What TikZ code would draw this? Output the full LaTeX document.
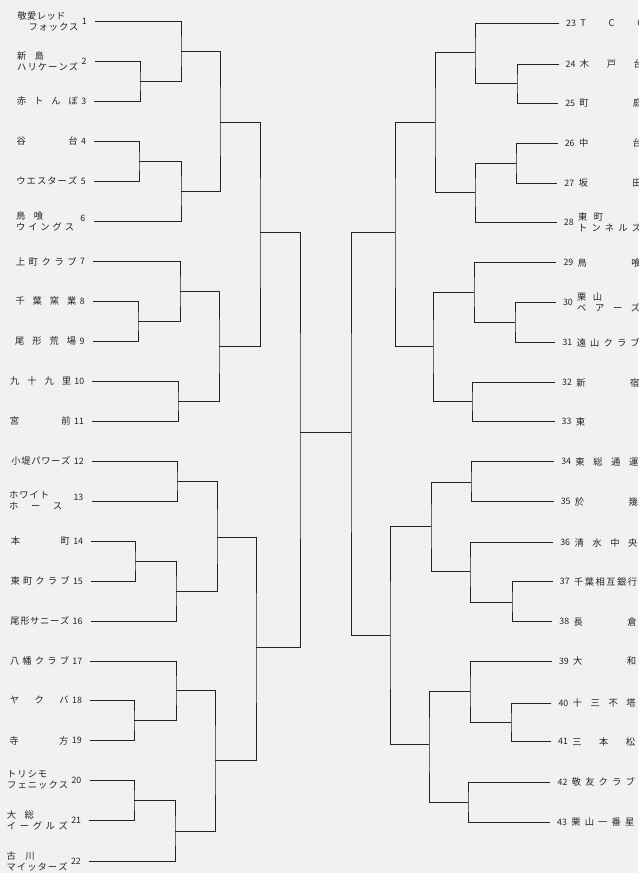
\documentclass[tikz,border=0pt]{standalone}
\usepackage{fontspec}
\setmainfont{Noto Sans CJK JP}
\usetikzlibrary{calc}
\definecolor{paper}{RGB}{241,241,239}
\definecolor{ink}{RGB}{35,35,35}
\makeatletter
\def\sp@loop#1{\ifx#1\relax\else\hfill#1\expandafter\sp@loop\fi}
\def\sp@first#1{#1\sp@loop}
\newcommand\sprd[2]{\makebox[#1pt][s]{\vphantom{国}\sp@first#2\relax}}
\makeatother
\newcommand\twoL[3]{\vbox{\baselineskip=11pt\hbox to #1pt{\vphantom{国}#2\hfil}\hbox to #1pt{\vphantom{国}#3\hfil}}}
\tikzset{
  ln/.style={draw=ink, line width=0.8pt},
  nm/.style={inner sep=0pt, text=ink, font=\fontsize{9.3}{11}\selectfont},
  nu/.style={inner sep=0pt, text=ink, font=\fontsize{8.8}{10}\selectfont},
}
\newcommand\Lteam[4][0]{%
  \coordinate (L#2) at ({95-6*(#3-21)/840},#3);
  \node[nu,anchor=east,yshift=#1pt] (nL#2) at ($(L#2)+(-8,0)$) {#2};
  \node[nm,anchor=east] (mL#2) at ($(L#2 -| nL#2.west)+(-3,0)$) {#4};
}
\newcommand\Rteam[4][0]{%
  \coordinate (R#2) at ({559-9*(#3-23)/800},#3);
  \node[nu,anchor=west,yshift=#1pt] (nR#2) at ($(R#2)+(7,0)$) {#2};
  \node[nm,anchor=west] (mR#2) at ($(R#2 -| nR#2.east)+(4,0)$) {#4};
}
\begin{document}
\begin{tikzpicture}[x=1pt,y=-1pt]
\clip (0,0) rectangle (638,873);
\fill[paper] (0,0) rectangle (638,873);

% ---- left teams
\Lteam{1}{21}{\twoL{61}{\sprd{48}{敬愛レッド}}{\hfill\sprd{50}{フォックス}}}
\Lteam{2}{61.5}{\twoL{61}{\sprd{27}{新島}}{\sprd{61}{ハリケーンズ}}}
\Lteam{3}{101}{\sprd{61}{赤トんぼ}}
\Lteam{4}{141}{\sprd{61}{谷台}}
\Lteam{5}{181}{\sprd{61}{ウエスターズ}}
\Lteam[3]{6}{221}{\twoL{61}{\sprd{27}{鳥喰}}{\sprd{58}{ウイングス}}}
\Lteam{7}{261.5}{\sprd{61}{上町クラブ}}
\Lteam{8}{301}{\sprd{61}{千葉窯業}}
\Lteam{9}{341}{\sprd{61}{尾形荒場}}
\Lteam{10}{381}{\sprd{61}{九十九里}}
\Lteam{11}{421}{\sprd{61}{宮前}}
\Lteam{12}{461}{\sprd{59}{小堤パワーズ}}
\Lteam[4]{13}{501}{\twoL{61}{\sprd{40}{ホワイト}}{\sprd{53}{ホース}}}
\Lteam{14}{541}{\sprd{59}{本町}}
\Lteam{15}{581}{\sprd{59}{東町クラブ}}
\Lteam{16}{621}{\sprd{59}{尾形サニーズ}}
\Lteam{17}{661}{\sprd{59}{八幡クラブ}}
\Lteam{18}{700.5}{\sprd{59}{ヤクバ}}
\Lteam{19}{740.5}{\sprd{59}{寺方}}
\Lteam{20}{780}{\twoL{61}{\sprd{40}{トリシモ}}{\sprd{61}{フェニックス}}}
\Lteam{21}{820}{\twoL{61}{\sprd{27}{大総}}{\sprd{61}{イーグルズ}}}
\Lteam{22}{861}{\twoL{61}{\sprd{28}{古川}}{\sprd{61}{マイッターズ}}}

% ---- right teams
\Rteam{23}{23}{\sprd{63}{TCC}}
\Rteam{24}{64}{\sprd{63}{木戸台}}
\Rteam{25}{103}{\sprd{63}{町庭}}
\Rteam{26}{143}{\sprd{63}{中台}}
\Rteam{27}{183}{\sprd{63}{坂田}}
\Rteam{28}{222.5}{\twoL{63}{\sprd{25}{東町}}{\sprd{63}{トンネルズ}}}
\Rteam{29}{262.5}{\sprd{63}{鳥喰}}
\Rteam{30}{302.5}{\twoL{63}{\sprd{25}{栗山}}{\sprd{63}{ベアーズ}}}
\Rteam{31}{342.5}{\sprd{63}{遠山クラブ}}
\Rteam{32}{382.5}{\sprd{63}{新宿}}
\Rteam{33}{421.5}{\makebox[63pt][l]{\vphantom{国}東}}
\Rteam{34}{461.5}{\sprd{63}{東総通運}}
\Rteam{35}{501.5}{\sprd{63}{於幾}}
\Rteam{36}{542.5}{\sprd{63}{清水中央}}
\Rteam{37}{581.5}{\sprd{63}{千葉相互銀行}}
\Rteam{38}{621.5}{\sprd{63}{長倉}}
\Rteam{39}{661}{\sprd{63}{大和}}
\Rteam{40}{703}{\sprd{63}{十三不塔}}
\Rteam{41}{741.5}{\sprd{63}{三本松}}
\Rteam{42}{782}{\sprd{63}{敬友クラブ}}
\Rteam{43}{822}{\sprd{63}{栗山一番星}}

% ---- left junctions
\coordinate (Ja) at (140,81);
\coordinate (Jb) at (181,51.5);
\coordinate (Jc) at (139,161);
\coordinate (Jd) at (181,191);
\coordinate (Je) at (220,122);
\coordinate (Jf) at (138,321);
\coordinate (Jg) at (180,291);
\coordinate (Jh) at (178,401);
\coordinate (Ji) at (219,346);
\coordinate (Jj) at (260,232);
\coordinate (Jk) at (177,481);
\coordinate (Jl) at (135,561);
\coordinate (Jm) at (176,591);
\coordinate (Jn) at (217,537);
\coordinate (Jo) at (134,720.5);
\coordinate (Jp) at (176,690);
\coordinate (Jq) at (134,800);
\coordinate (Jr) at (175,831);
\coordinate (Js) at (215,760);
\coordinate (Jt) at (256,647);
\coordinate (Ju) at (300,432);

% ---- right junctions
\coordinate (KA) at (517,83);
\coordinate (KB) at (475,52.5);
\coordinate (KC) at (516,163);
\coordinate (KD) at (475,192);
\coordinate (KE) at (435,122);
\coordinate (KF) at (515,322);
\coordinate (KG) at (474,292);
\coordinate (KH) at (472,401);
\coordinate (KI) at (433,346);
\coordinate (KJ) at (395,232);
\coordinate (KK) at (471,482);
\coordinate (KL) at (512,602);
\coordinate (KM) at (470,571);
\coordinate (KN) at (431,526);
\coordinate (KO) at (511,722);
\coordinate (KP) at (470,691);
\coordinate (KQ) at (468,802);
\coordinate (KR) at (429,744);
\coordinate (KS) at (390,635.5);
\coordinate (KT) at (351,432);

% ---- left bracket
\draw[ln] (L2) -| (Ja) |- (L3);
\draw[ln] (L1) -| (Jb) |- (Ja);
\draw[ln] (L4) -| (Jc) |- (L5);
\draw[ln] (Jc) -| (Jd) |- (L6);
\draw[ln] (Jb) -| (Je) |- (Jd);
\draw[ln] (L8) -| (Jf) |- (L9);
\draw[ln] (L7) -| (Jg) |- (Jf);
\draw[ln] (L10) -| (Jh) |- (L11);
\draw[ln] (Jg) -| (Ji) |- (Jh);
\draw[ln] (Je) -| (Jj) |- (Ji);
\draw[ln] (L12) -| (Jk) |- (L13);
\draw[ln] (L14) -| (Jl) |- (L15);
\draw[ln] (Jl) -| (Jm) |- (L16);
\draw[ln] (Jk) -| (Jn) |- (Jm);
\draw[ln] (L18) -| (Jo) |- (L19);
\draw[ln] (L17) -| (Jp) |- (Jo);
\draw[ln] (L20) -| (Jq) |- (L21);
\draw[ln] (Jq) -| (Jr) |- (L22);
\draw[ln] (Jp) -| (Js) |- (Jr);
\draw[ln] (Jn) -| (Jt) |- (Js);
\draw[ln] (Jj) -| (Ju) |- (Jt);

% ---- right bracket
\draw[ln] (R24) -| (KA) |- (R25);
\draw[ln] (R23) -| (KB) |- (KA);
\draw[ln] (R26) -| (KC) |- (R27);
\draw[ln] (KC) -| (KD) |- (R28);
\draw[ln] (KB) -| (KE) |- (KD);
\draw[ln] (R30) -| (KF) |- (R31);
\draw[ln] (R29) -| (KG) |- (KF);
\draw[ln] (R32) -| (KH) |- (R33);
\draw[ln] (KG) -| (KI) |- (KH);
\draw[ln] (KE) -| (KJ) |- (KI);
\draw[ln] (R34) -| (KK) |- (R35);
\draw[ln] (R37) -| (KL) |- (R38);
\draw[ln] (R36) -| (KM) |- (KL);
\draw[ln] (KK) -| (KN) |- (KM);
\draw[ln] (R40) -| (KO) |- (R41);
\draw[ln] (R39) -| (KP) |- (KO);
\draw[ln] (R42) -| (KQ) |- (R43);
\draw[ln] (KP) -| (KR) |- (KQ);
\draw[ln] (KN) -| (KS) |- (KR);
\draw[ln] (KJ) -| (KT) |- (KS);

% ---- final
\draw[ln] (Ju) -- (KT);
\end{tikzpicture}
\end{document}
